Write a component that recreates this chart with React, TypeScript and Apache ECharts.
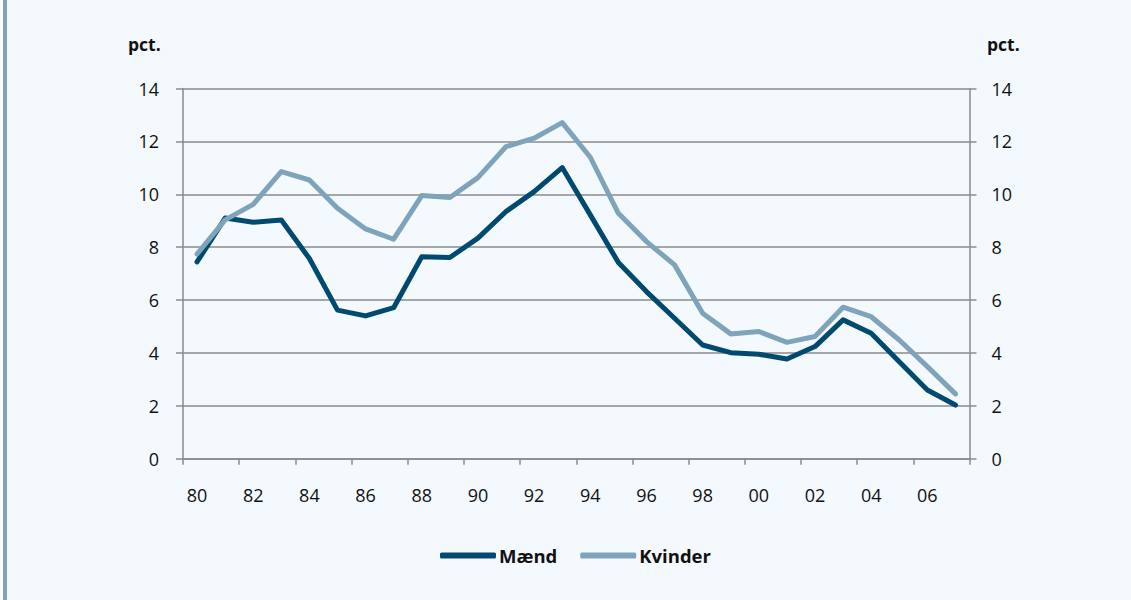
import React, { useEffect, useRef } from "react";
import * as echarts from "echarts";

const years = [
  "80", "81", "82", "83", "84", "85", "86", "87", "88", "89",
  "90", "91", "92", "93", "94", "95", "96", "97", "98", "99",
  "00", "01", "02", "03", "04", "05", "06", "07",
];
const maend = [
  7.44, 9.1, 8.94, 9.03, 7.57, 5.62, 5.4, 5.71, 7.64, 7.61,
  8.34, 9.35, 10.1, 11.01, 9.22, 7.42, 6.32, 5.31, 4.3, 4.01,
  3.95, 3.77, 4.24, 5.25, 4.74, 3.67, 2.6, 2.03,
];
const kvinder = [
  7.74, 9.03, 9.62, 10.86, 10.54, 9.47, 8.69, 8.3, 9.95, 9.88,
  10.63, 11.8, 12.12, 12.71, 11.4, 9.28, 8.21, 7.33, 5.5, 4.72,
  4.81, 4.4, 4.62, 5.73, 5.37, 4.49, 3.48, 2.45,
];
const seriesNames = ["Mænd", "Kvinder"];
const unitLabel = "pct.";

const FONT = "'Open Sans', 'Noto Sans', sans-serif";
const GRID_COLOR = "#8a8a8a";
const DARK = "#004a70";
const LIGHT = "#7fa3ba";

export default function App() {
  const ref = useRef<HTMLDivElement>(null);

  useEffect(() => {
    if (!ref.current) return;
    const chart = echarts.init(ref.current, undefined, { renderer: "svg" });
    const yAxisCommon = {
      type: "value",
      min: 0,
      max: 14,
      interval: 2,
      axisLine: { show: true, lineStyle: { color: GRID_COLOR, width: 1.5 } },
      axisTick: { show: true, length: 7, lineStyle: { color: GRID_COLOR, width: 1.5 } },
      axisLabel: { color: "#111", fontSize: 18, fontFamily: FONT },
    };
    chart.setOption({
      animation: false,
      backgroundColor: "transparent",
      grid: { left: 183, right: 161.5, top: 88.5, bottom: 141.3, containLabel: false },
      xAxis: {
        type: "category",
        data: years,
        boundaryGap: true,
        axisLine: { show: true, lineStyle: { color: GRID_COLOR, width: 1.5 } },
        axisTick: { show: true, interval: 1, length: 6, lineStyle: { color: GRID_COLOR, width: 1.5 } },
        axisLabel: { interval: 1, color: "#111", fontSize: 18, fontFamily: FONT, margin: 27 },
        splitLine: { show: false },
      },
      yAxis: [
        {
          ...yAxisCommon,
          position: "left",
          axisLabel: { ...yAxisCommon.axisLabel, margin: 24 },
          splitLine: { show: true, lineStyle: { color: GRID_COLOR, width: 1.5 } },
        },
        {
          ...yAxisCommon,
          position: "right",
          axisLabel: { ...yAxisCommon.axisLabel, margin: 22 },
          splitLine: { show: false },
        },
      ],
      legend: {
        data: seriesNames,
        left: 440,
        top: 546,
        padding: 0,
        icon: "roundRect",
        itemWidth: 56,
        itemHeight: 6,
        itemGap: 23,
        textStyle: {
          color: "#111",
          fontSize: 18.5,
          fontWeight: "bold",
          fontFamily: FONT,
          padding: [0, 0, 0, -2],
        },
      },
      graphic: [
        {
          type: "text",
          left: 128,
          top: 35,
          style: { text: unitLabel, font: `bold 17.5px ${FONT}`, fill: "#111" },
        },
        {
          type: "text",
          left: 987,
          top: 35,
          style: { text: unitLabel, font: `bold 17.5px ${FONT}`, fill: "#111" },
        },
      ],
      series: [
        {
          name: seriesNames[0],
          type: "line",
          data: maend,
          yAxisIndex: 0,
          symbol: "none",
          lineStyle: { color: DARK, width: 5, join: "round", cap: "round" },
          itemStyle: { color: DARK },
        },
        {
          name: seriesNames[1],
          type: "line",
          data: kvinder,
          yAxisIndex: 0,
          symbol: "none",
          lineStyle: { color: LIGHT, width: 5, join: "round", cap: "round" },
          itemStyle: { color: LIGHT },
        },
      ],
    });
    return () => chart.dispose();
  }, []);

  return (
    <div
      style={{
        position: "fixed",
        left: 0,
        top: 0,
        width: 1131,
        height: 600,
        background: "#ffffff",
      }}
    >
      <div
        style={{
          position: "absolute",
          left: 3,
          top: 0,
          width: 1128,
          height: 600,
          background: "#f4f9fd",
          borderLeft: "4px solid #80a4bb",
          boxSizing: "border-box",
        }}
      />
      <div ref={ref} style={{ position: "absolute", left: 0, top: 0, width: 1131, height: 600 }} />
    </div>
  );
}
